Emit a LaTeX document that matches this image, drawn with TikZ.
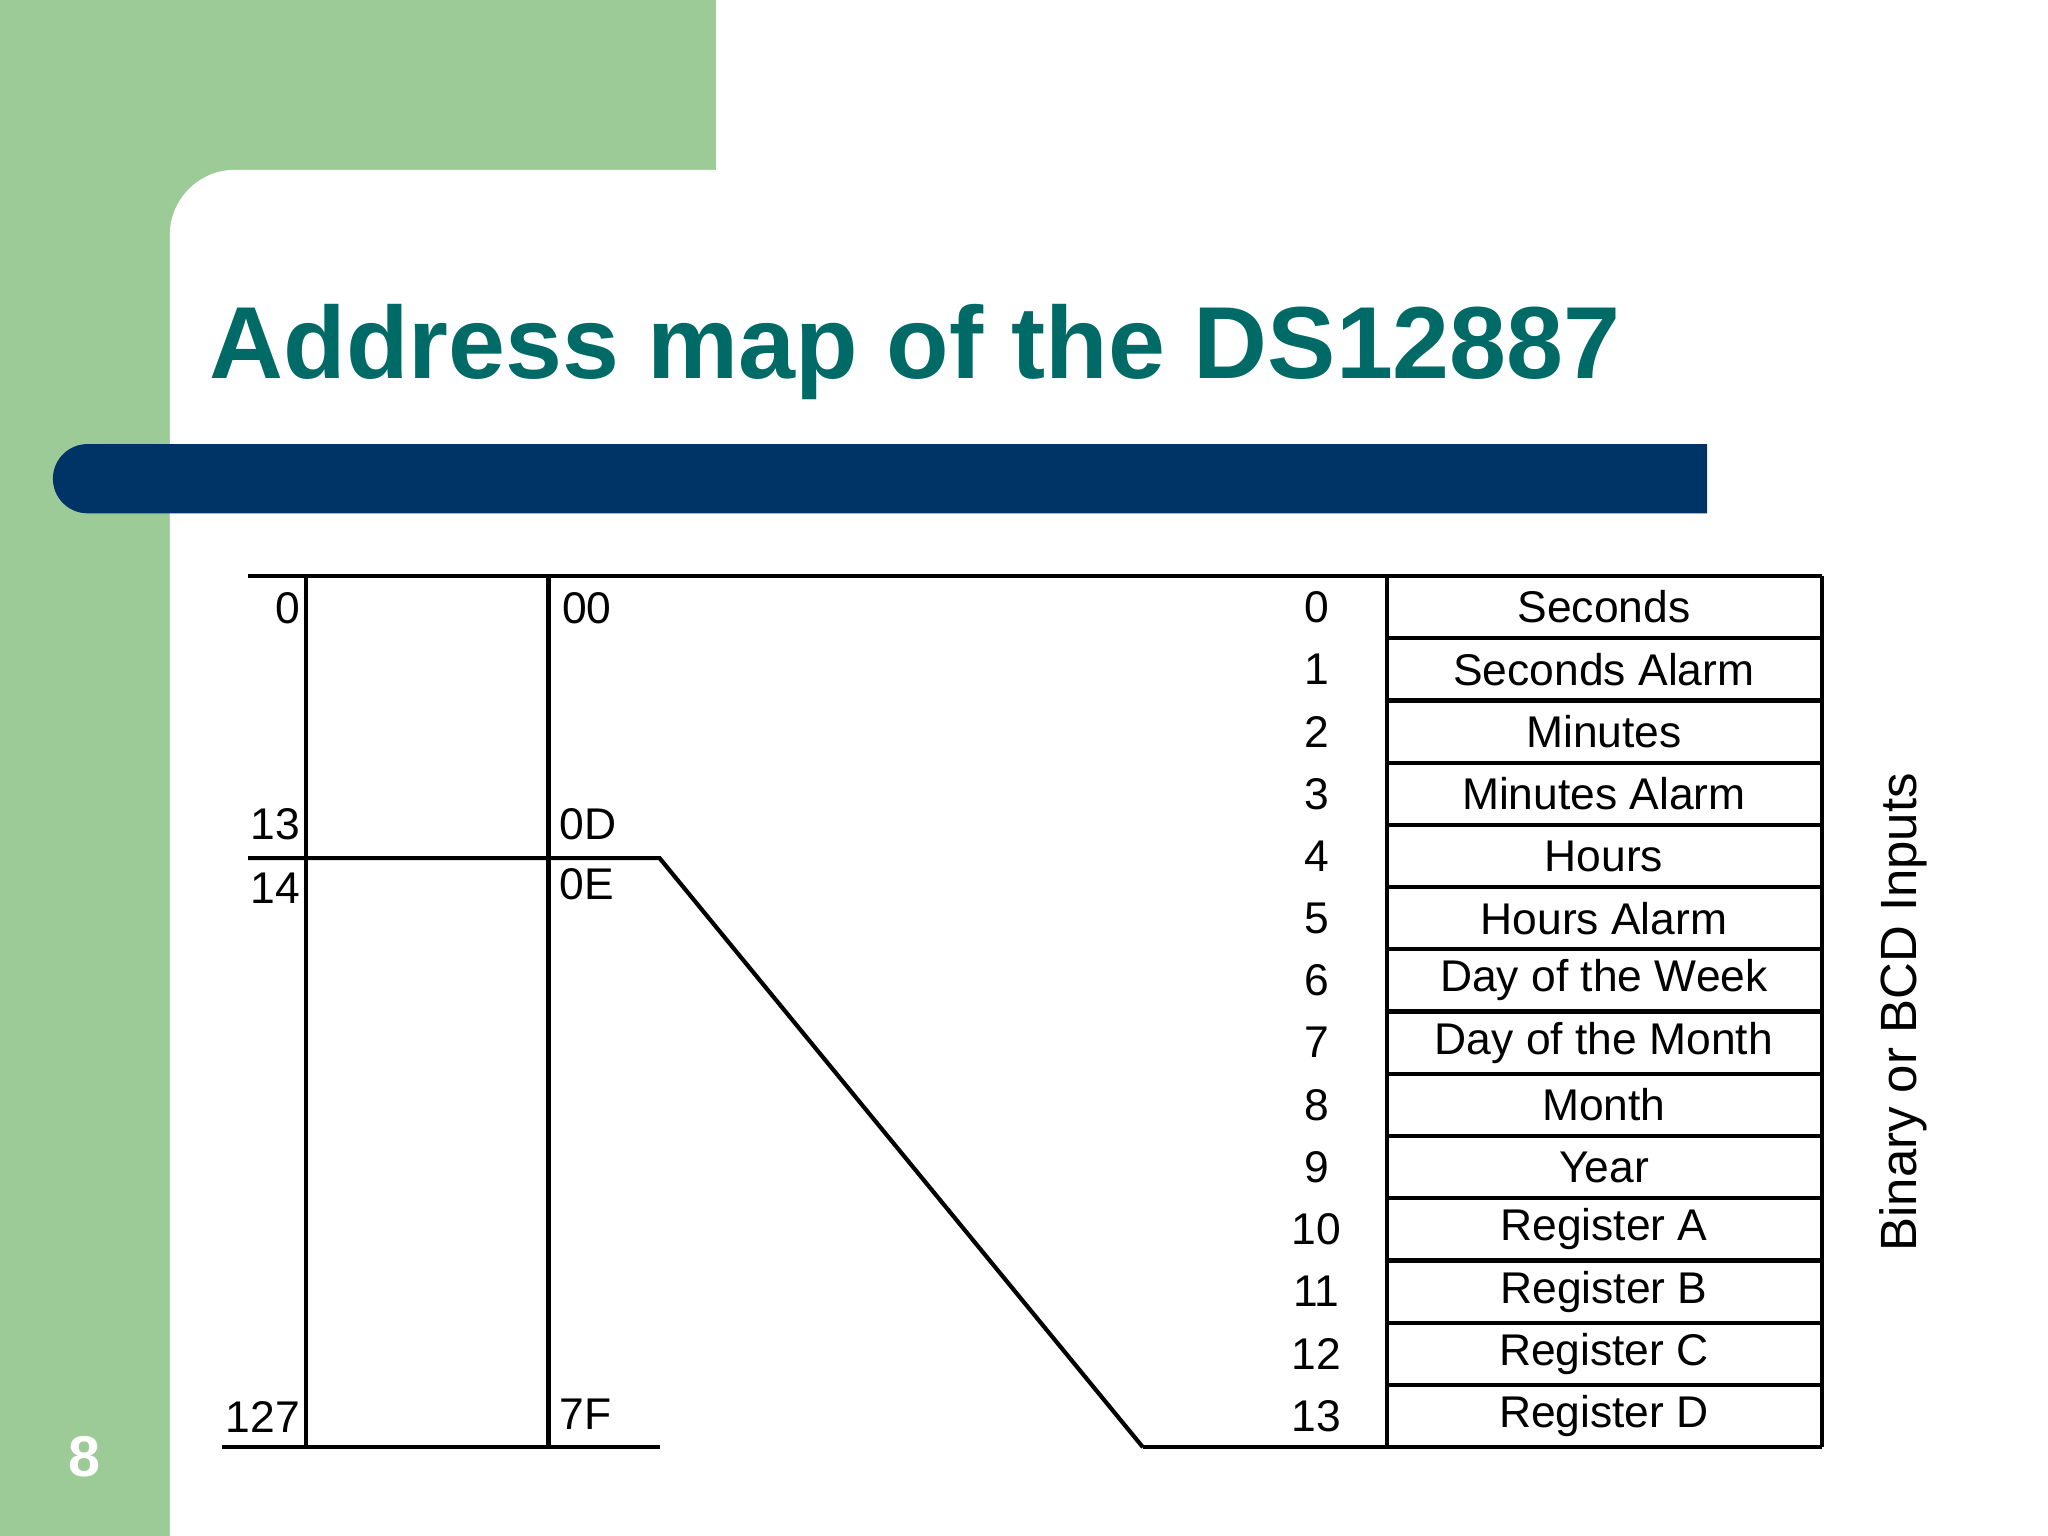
\documentclass[tikz,border=0pt]{standalone}
\usepackage{fontspec}
\setmainfont{Liberation Sans}
\definecolor{grn}{HTML}{9DCB98}
\definecolor{navy}{HTML}{003366}
\definecolor{teal2}{HTML}{006A66}
\begin{document}
\begin{tikzpicture}[x=0.5pt,y=-0.5pt,
  ln/.style={line width=1.6pt,black},
  lbl/.style={font=\fontsize{17}{17}\selectfont,inner sep=0pt},
  reg/.style={font=\fontsize{17}{17}\selectfont,inner sep=0pt}]
\useasboundingbox (0,0) rectangle (1568,1176);
\fill[white] (0,0) rectangle (1568,1176);
\fill[grn] (0,0) rectangle (130,1176);
\fill[grn] (0,0) rectangle (548,200);
\fill[white] (130,1176) -- (130,180) arc[start angle=180,end angle=270,radius=50] -- (1568,130) -- (1568,1176) -- cycle;
\node[anchor=base west,inner sep=0pt,text=teal2,font=\fontsize{39.2}{40}\selectfont\bfseries] (title) at (160,290) {Address map of the DS12887};
\fill[navy] (1307,340) -- (67,340) arc[start angle=270,end angle=90,radius=26.5] -- (1307,393) -- cycle;
\node[text=white,font=\fontsize{22}{22}\selectfont\bfseries] (pg) at (65,1115) {8};
% diagram
\coordinate (tl) at (190,441); \coordinate (tr) at (1395,441);
\draw[ln] (tl) -- (tr);
\draw[ln] (234,441) -- (234,1108);
\draw[ln] (420,441) -- (420,1108);
\draw[ln] (170,1108) -- (505,1108);
\draw[ln] (875,1108) -- (1395,1108);
\coordinate (k1) at (505,657); \coordinate (k2) at (875,1108);
\draw[ln] (190,657) -- (k1) -- (k2);
\draw[ln] (1062,441) -- (1062,1108);
\draw[ln] (1395,441) -- (1395,1108);
\foreach \i in {1,...,13}{\draw[ln] (1062,441+\i*47.64) -- (1395,441+\i*47.64);}
\foreach \n [count=\i from 0] in {Seconds,Seconds Alarm,Minutes,Minutes Alarm,Hours,Hours Alarm,Day of the Week,Day of the Month,Month,Year,Register A,Register B,Register C,Register D}{
  \node[reg] (r\i) at (1228,441+\i*47.64+23.8) {\n};
  \node[lbl] (n\i) at (1008,441+\i*47.64+23.8) {\i};
}
\node[lbl,anchor=east] (a0) at (230,466) {0};
\node[lbl,anchor=east] (a13) at (230,631) {13};
\node[lbl,anchor=east] (a14) at (230,680) {14};
\node[lbl,anchor=east] (a127) at (230,1085) {127};
\node[lbl,anchor=west] (h0) at (430,466) {00};
\node[lbl,anchor=west] (h13) at (428,631) {0D};
\node[lbl,anchor=west] (h14) at (428,677) {0E};
\node[lbl,anchor=west] (h127) at (428,1083) {7F};
\node[rotate=90,inner sep=0pt,font=\fontsize{19.5}{19.5}\selectfont] (bin) at (1457,775) {Binary or BCD Inputs};
\end{tikzpicture}
\end{document}
